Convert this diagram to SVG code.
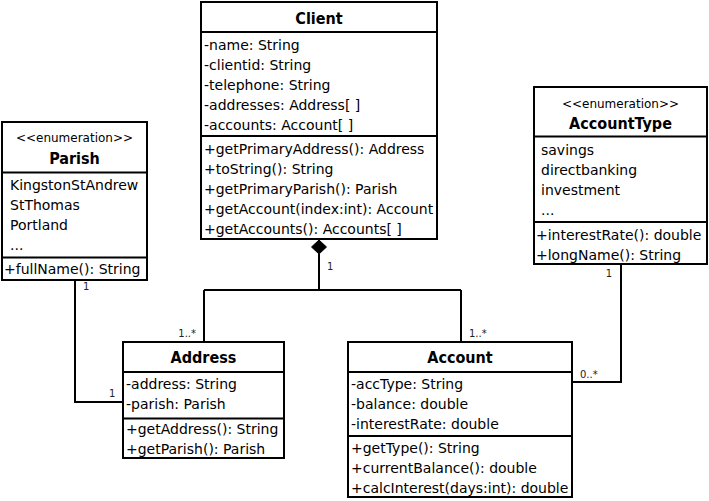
<svg xmlns="http://www.w3.org/2000/svg" width="709" height="501" viewBox="0 0 709 501">
<style>
.box{fill:#fff;stroke:#000;stroke-width:2}
.sep{stroke:#000;stroke-width:2;fill:none}
.t{font-family:"DejaVu Sans",sans-serif;font-size:14px;fill:#000}
.title{font-family:"DejaVu Sans Condensed","DejaVu Sans",sans-serif;font-stretch:condensed;font-size:16px;font-weight:bold;fill:#000;text-anchor:middle}
.st{font-family:"DejaVu Sans",sans-serif;font-size:12px;fill:#000;text-anchor:middle}
.lbl{font-family:"DejaVu Sans",sans-serif;font-size:10px;fill:#222}
.conn{stroke:#000;stroke-width:2;fill:none}
</style>
<rect width="709" height="501" fill="#fff"/>
<g id="connectors">
<path class="conn" d="M319 254 V290 M204 290 H461 M204 290 V342 M461 290 V342"/>
<polygon points="319,240 326.5,247 319,254 311.5,247" fill="#000" stroke="#000" stroke-width="1"/>
<path class="conn" d="M75 280 V402 H123"/>
<path class="conn" d="M621 264 V382 H572"/>
<text class="lbl" x="327" y="270">1</text>
<text class="lbl" x="196" y="337" text-anchor="end">1..*</text>
<text class="lbl" x="469" y="337">1..*</text>
<text class="lbl" x="580" y="378">0..*</text>
<text class="lbl" x="612" y="277" text-anchor="end">1</text>
<text class="lbl" x="83" y="290">1</text>
<text class="lbl" x="109" y="397">1</text>
</g>
<g id="Client">
<rect class="box" x="201" y="2" width="236" height="237"/>
<path class="sep" d="M201 32 H437 M201 136 H437"/>
<text class="title" x="319" y="23.5">Client</text>
<text class="t" x="204" y="49.5">-name: String</text>
<text class="t" x="204" y="69.5">-clientid: String</text>
<text class="t" x="204" y="89.5">-telephone: String</text>
<text class="t" x="204" y="109.5">-addresses: Address[ ]</text>
<text class="t" x="204" y="129.5">-accounts: Account[ ]</text>
<text class="t" x="204" y="153.5">+getPrimaryAddress(): Address</text>
<text class="t" x="204" y="173.5">+toString(): String</text>
<text class="t" x="204" y="193.5">+getPrimaryParish(): Parish</text>
<text class="t" x="204" y="213.5">+getAccount(index:int): Account</text>
<text class="t" x="204" y="233.5">+getAccounts(): Accounts[ ]</text>
</g>
<g id="Parish">
<rect class="box" x="2" y="122" width="145" height="158"/>
<path class="sep" d="M2 172.5 H147 M2 257.5 H147"/>
<text class="st" x="74.5" y="141.5">&lt;&lt;enumeration&gt;&gt;</text>
<text class="title" x="74.5" y="164">Parish</text>
<text class="t" x="10" y="190">KingstonStAndrew</text>
<text class="t" x="10" y="210">StThomas</text>
<text class="t" x="10" y="230">Portland</text>
<text class="t" x="10" y="250">...</text>
<text class="t" x="4" y="274">+fullName(): String</text>
</g>
<g id="AccountType">
<rect class="box" x="534" y="87" width="173" height="177"/>
<path class="sep" d="M534 136.5 H707 M534 222 H707"/>
<text class="st" x="620.5" y="107.5">&lt;&lt;enumeration&gt;&gt;</text>
<text class="title" x="620.5" y="129">AccountType</text>
<text class="t" x="541" y="155">savings</text>
<text class="t" x="541" y="175">directbanking</text>
<text class="t" x="541" y="195">investment</text>
<text class="t" x="541" y="215">...</text>
<text class="t" x="536" y="239.5">+interestRate(): double</text>
<text class="t" x="536" y="259.5">+longName(): String</text>
</g>
<g id="Address">
<rect class="box" x="123" y="342" width="161" height="116"/>
<path class="sep" d="M123 372 H284 M123 418.5 H284"/>
<text class="title" x="203.5" y="362.5">Address</text>
<text class="t" x="126" y="388.5">-address: String</text>
<text class="t" x="126" y="408.5">-parish: Parish</text>
<text class="t" x="126" y="433.5">+getAddress(): String</text>
<text class="t" x="126" y="453.5">+getParish(): Parish</text>
</g>
<g id="Account">
<rect class="box" x="348" y="342" width="224" height="155"/>
<path class="sep" d="M348 372 H572 M348 436 H572"/>
<text class="title" x="460" y="362.5">Account</text>
<text class="t" x="351" y="388.5">-accType: String</text>
<text class="t" x="351" y="408.5">-balance: double</text>
<text class="t" x="351" y="428.5">-interestRate: double</text>
<text class="t" x="351" y="452.5">+getType(): String</text>
<text class="t" x="351" y="472.5">+currentBalance(): double</text>
<text class="t" x="351" y="492.5">+calcInterest(days:int): double</text>
</g>
</svg>
